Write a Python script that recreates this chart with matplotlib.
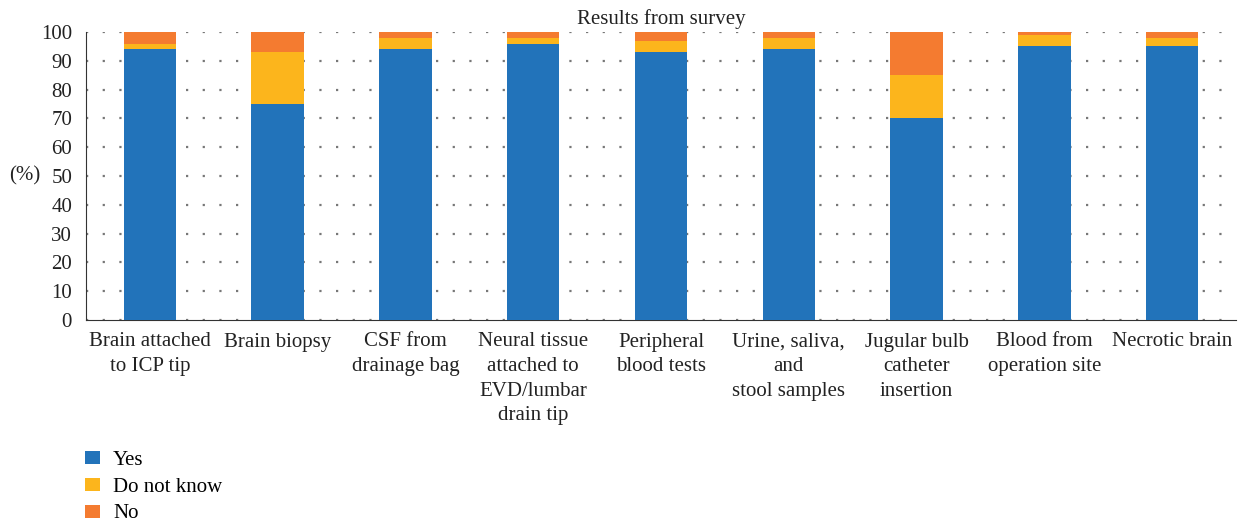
import matplotlib
matplotlib.use("Agg")
import matplotlib.pyplot as plt
import numpy as np

categories = ["Brain attached\nto ICP tip", "Brain biopsy", "CSF from\ndrainage bag",
              "Neural tissue\nattached to\nEVD/lumbar\ndrain tip", "Peripheral\nblood tests",
              "Urine, saliva,\nand\nstool samples", "Jugular bulb\ncatheter\ninsertion",
              "Blood from\noperation site", "Necrotic brain"]
yes = [94, 75, 94, 96, 93, 94, 70, 95, 95]
dont_know = [2, 18, 4, 2, 4, 4, 15, 4, 3]
no = [4, 7, 2, 2, 3, 2, 15, 1, 2]
yticks = list(range(0, 101, 10))

FS = 15
plt.rcParams['font.family'] = ['Liberation Serif', 'DejaVu Serif']
fig = plt.figure(figsize=(12.42, 5.22), dpi=100)
ax = fig.add_axes([86/1242, (522-320)/522, (1236-86)/1242, 288/522])

x = np.arange(len(categories))
w = 0.41
c_yes, c_dk, c_no = "#2273BA", "#FCB51C", "#F47B30"
b1 = ax.bar(x, yes, w, color=c_yes, label="Yes", zorder=3)
b2 = ax.bar(x, dont_know, w, bottom=yes, color=c_dk, label="Do not know", zorder=3)
b3 = ax.bar(x, no, w, bottom=np.array(yes)+np.array(dont_know), color=c_no, label="No", zorder=3)

ax.set_xlim(-0.5, len(categories)-0.5)
ax.set_ylim(0, 100)
ax.set_yticks(yticks)
ax.yaxis.grid(True, linestyle=(0, (1, 6.5)), color="#777777", linewidth=1.6, zorder=0)
ax.set_axisbelow(True)
for s in ["top", "right"]:
    ax.spines[s].set_visible(False)
ax.spines["left"].set_color("#333333")
ax.spines["bottom"].set_color("#333333")
ax.tick_params(axis="both", length=0, labelsize=FS, colors="#222222")
ax.tick_params(axis="y", pad=10)
ax.tick_params(axis="x", pad=9)
ax.set_xticks(x)
ax.set_xticklabels(categories, linespacing=1.4)
ax.set_ylabel("(%)", rotation=0, fontsize=FS, labelpad=12, va="center", color="#222222")
ax.set_title("Results from survey", fontsize=FS, pad=6, color="#222222")

fig.legend(handles=[b1, b2, b3], labels=["Yes", "Do not know", "No"],
           loc="upper left", bbox_to_anchor=(85/1242, 1-451/522), frameon=False,
           fontsize=FS, handlelength=0.72, handleheight=0.58, handletextpad=0.62,
           labelspacing=0.37, borderpad=0, borderaxespad=0)

fig.savefig("out.png", dpi=100)
